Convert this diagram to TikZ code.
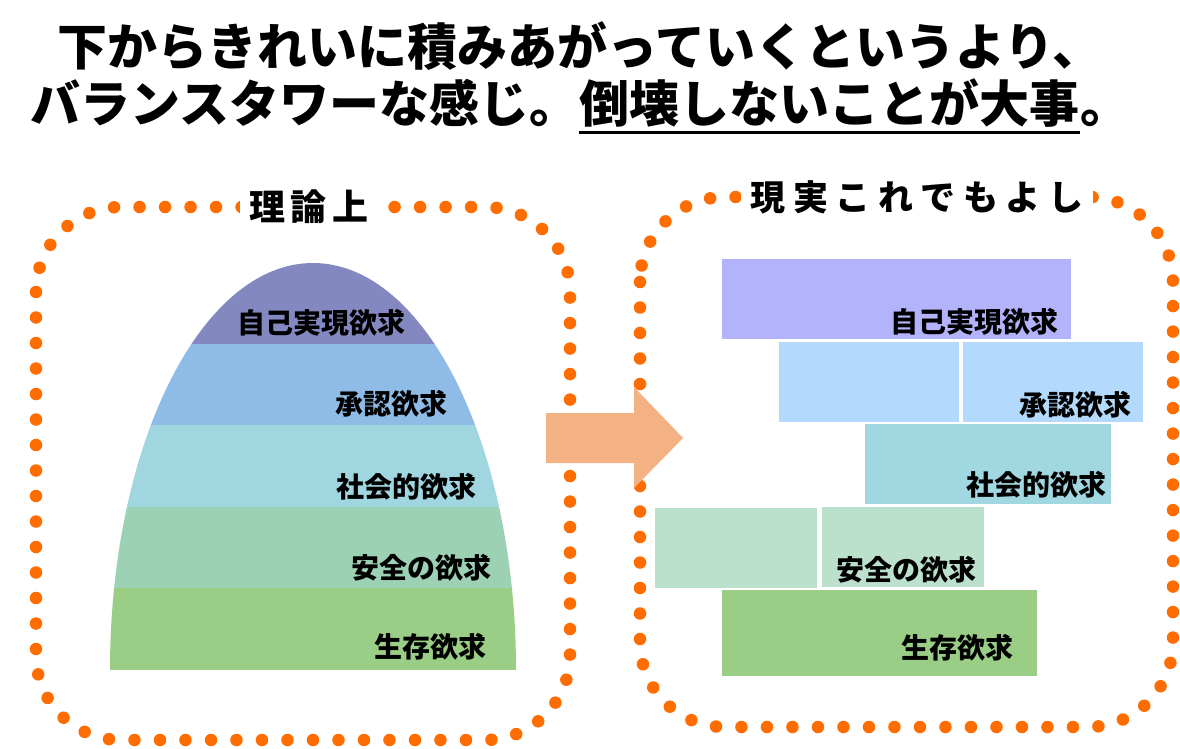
\documentclass[tikz,border=0pt]{standalone}
\usepackage{fontspec}
\setmainfont{Noto Sans CJK JP}
\definecolor{dotc}{RGB}{255,108,0}
\definecolor{arrc}{RGB}{244,177,131}
\definecolor{lA}{RGB}{132,136,192}
\definecolor{lB}{RGB}{143,188,230}
\definecolor{lC}{RGB}{160,214,224}
\definecolor{lD}{RGB}{157,209,180}
\definecolor{lE}{RGB}{154,205,133}
\definecolor{rA}{RGB}{179,179,251}
\definecolor{rB}{RGB}{179,217,252}
\definecolor{rC}{RGB}{160,215,224}
\definecolor{rD}{RGB}{187,224,204}
\definecolor{rE}{RGB}{154,205,133}
\tikzset{
  frame/.style={draw=dotc, line width=12.5pt, line cap=round, dash pattern=on 0pt off 25.5pt, rounded corners=85pt},
  hd/.style={inner sep=0pt, font=\fontsize{50}{60}\selectfont\bfseries},
  ttl/.style={fill=white, inner xsep=10pt, inner ysep=4pt},
  lbl/.style={inner sep=0pt, anchor=east, font=\fontsize{28}{34}\selectfont\bfseries},
  blk/.style={inner sep=0pt, anchor=north west},
}
\begin{document}
\begin{tikzpicture}[x=1pt,y=-1pt]
\useasboundingbox (0,0) rectangle (1180,748);
\fill[white] (0,0) rectangle (1180,748);

% headline
\node[hd] (h1) at (580,46) {下からきれいに積みあがっていくというより、};
\node[hd, anchor=west] (h2a) at (30,103) {バランスタワーな感じ。};
\node[hd, anchor=base west] (h2b) at (h2a.base east) {倒壊しないことが大事};
\node[hd, anchor=base west] (h2c) at (h2b.base east) {。};
\draw[line width=3pt] (h2b.west |- 0,132) -- (h2b.east |- 0,132);

% dotted frames
\draw[frame] (36,207) rectangle (570,740);
\draw[frame] (640,197) rectangle (1173,727);

% frame titles
\node[ttl, font=\fontsize{36}{42}\selectfont\bfseries\addfontfeature{LetterSpace=14}] (tl) at (309,207) {理論上};
\node[ttl, font=\fontsize{35}{42}\selectfont\bfseries\addfontfeature{LetterSpace=22}] (tr) at (917,197) {現実これでもよし};

% left dome
\begin{scope}
\clip (313,670) ellipse [x radius=203pt, y radius=407pt];
\fill[lA] (100,255) rectangle (530,344);
\fill[lB] (100,344) rectangle (530,425);
\fill[lC] (100,425) rectangle (530,507);
\fill[lD] (100,507) rectangle (530,588);
\fill[lE] (100,588) rectangle (530,672);
\end{scope}
\fill[white] (100,670) rectangle (530,680);
\node[lbl] (la) at (406,323) {自己実現欲求};
\node[lbl] (lb) at (448,404) {承認欲求};
\node[lbl] (lc) at (477,487) {社会的欲求};
\node[lbl] (ld) at (492,568) {安全の欲求};
\node[lbl] (le) at (487,647) {生存欲求};

% right blocks
\node[blk, fill=rA, minimum width=349pt, minimum height=80pt] (ra) at (722,259) {};
\node[blk, fill=rB, minimum width=180pt, minimum height=80pt] (rb1) at (779,342) {};
\node[blk, fill=rB, minimum width=180pt, minimum height=80pt] (rb2) at (963,342) {};
\node[blk, fill=rC, minimum width=246pt, minimum height=80pt] (rc) at (865,424) {};
\node[blk, fill=rD, minimum width=162pt, minimum height=80pt] (rd1) at (655,508) {};
\node[blk, fill=rD, minimum width=162pt, minimum height=80pt] (rd2) at (822,507) {};
\node[blk, fill=rE, minimum width=315pt, minimum height=86pt] (re) at (722,590) {};
\node[lbl] (lra) at (1059,322) {自己実現欲求};
\node[lbl] (lrb) at (1132,405) {承認欲求};
\node[lbl] (lrc) at (1107,485) {社会的欲求};
\node[lbl] (lrd) at (977,570) {安全の欲求};
\node[lbl] (lre) at (1014,648) {生存欲求};

% big arrow
\fill[arrc] (546,413) -- (634,413) -- (634,387) -- (683,438) -- (634,488) -- (634,463) -- (546,463) -- cycle;
\end{tikzpicture}
\end{document}
